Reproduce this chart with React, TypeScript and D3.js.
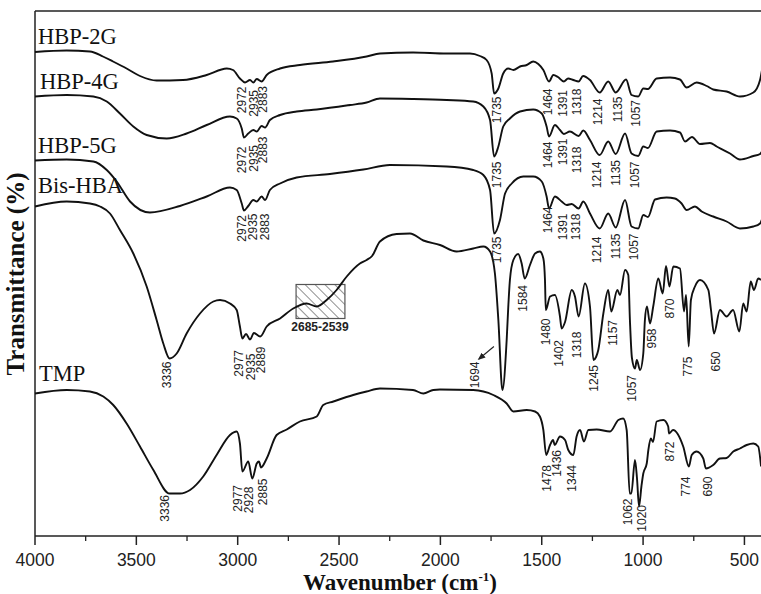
import React from 'react';
import * as d3 from 'd3';

type Pt = [number, number];
type Peak = [string, number, number];

const xMajorTicks = [4000, 3500, 3000, 2500, 2000, 1500, 1000, 500];
const xMinorTicks = [3750, 3250, 2750, 2250, 1750, 1250, 750];

const seriesNames = ['HBP-2G', 'HBP-4G', 'HBP-5G', 'Bis-HBA', 'TMP'];

// [wavenumber (cm-1), transmittance (a.u., offset)]
const hbp2g: Pt[] = [
  [4000, 96.8], [3844, 97.1], [3729, 96.9], [3665, 95.9], [3615, 94.9], [3548, 93.5], [3482, 92.0], [3400, 91.1],
  [3270, 91.2], [3153, 92.2], [3054, 93.5], [3023, 93.2], [2989, 91.5], [2964, 90.7], [2939, 91.2], [2923, 90.7],
  [2906, 91.4], [2882, 90.9], [2857, 92.2], [2791, 93.5], [2693, 94.2], [2530, 94.9], [2364, 95.9], [2298, 96.5],
  [2135, 96.7], [1969, 96.5], [1854, 96.5], [1805, 96.0], [1772, 95.2], [1747, 92.5], [1735, 88.5], [1714, 89.5],
  [1690, 92.5], [1665, 93.5], [1640, 93.2], [1607, 93.9], [1574, 94.2], [1542, 94.9], [1517, 94.4], [1492, 93.2],
  [1464, 90.9], [1443, 92.2], [1420, 91.8], [1391, 90.9], [1370, 91.5], [1344, 91.2], [1318, 90.9], [1296, 92.0],
  [1262, 91.2], [1214, 88.7], [1172, 90.9], [1135, 88.7], [1084, 91.3], [1057, 88.2], [1024, 87.9], [999, 89.5],
  [976, 89.4], [933, 91.5], [867, 91.7], [818, 91.3], [785, 89.7], [736, 90.7], [686, 90.0], [654, 89.3],
  [588, 88.9], [522, 87.9], [456, 88.7], [423, 91.2], [412, 93.5],
];

const hbp4g: Pt[] = [
  [4000, 87.9], [3844, 88.2], [3712, 87.9], [3646, 86.9], [3581, 84.5], [3515, 81.9], [3449, 80.2], [3350, 79.5],
  [3252, 80.5], [3153, 82.2], [3038, 83.9], [3005, 83.5], [2980, 81.5], [2969, 79.7], [2948, 80.5], [2923, 81.2],
  [2906, 80.9], [2882, 82.0], [2865, 81.7], [2841, 83.2], [2791, 84.2], [2709, 84.9], [2610, 85.3], [2446, 86.2],
  [2364, 86.7], [2298, 87.5], [2135, 87.4], [1969, 87.2], [1838, 86.9], [1788, 85.9], [1755, 83.2], [1735, 75.9],
  [1714, 77.9], [1690, 81.9], [1657, 83.5], [1607, 84.9], [1542, 85.3], [1500, 84.5], [1476, 81.9], [1464, 79.9],
  [1435, 82.2], [1410, 81.2], [1391, 80.4], [1361, 80.9], [1318, 80.0], [1295, 81.1], [1262, 79.2], [1214, 76.2],
  [1172, 78.9], [1135, 76.4], [1089, 80.5], [1057, 76.5], [1024, 76.0], [999, 77.9], [976, 77.6], [933, 80.9],
  [867, 81.1], [818, 80.7], [793, 78.9], [759, 79.8], [719, 78.4], [670, 78.6], [637, 77.9], [571, 76.5],
  [522, 75.3], [456, 76.0], [423, 76.4], [412, 77.0],
];

const hbp5g: Pt[] = [
  [4000, 75.1], [3844, 75.3], [3712, 74.9], [3646, 73.2], [3597, 70.9], [3531, 66.9], [3433, 64.7], [3285, 66.0],
  [3153, 67.9], [3038, 69.7], [3005, 69.2], [2980, 66.5], [2969, 65.1], [2948, 66.0], [2923, 67.2], [2906, 66.9],
  [2882, 67.9], [2865, 67.2], [2841, 69.2], [2791, 70.5], [2709, 71.7], [2545, 72.4], [2380, 73.3], [2249, 74.2],
  [1969, 73.9], [1838, 73.2], [1788, 72.2], [1755, 69.2], [1735, 60.5], [1706, 63.2], [1681, 68.5], [1648, 70.5],
  [1591, 71.9], [1542, 71.9], [1500, 70.9], [1476, 67.9], [1464, 65.5], [1435, 67.9], [1402, 66.9], [1377, 66.2],
  [1352, 66.4], [1318, 65.5], [1295, 66.9], [1262, 64.5], [1214, 61.5], [1172, 64.5], [1135, 61.7], [1089, 67.2],
  [1057, 61.9], [1024, 61.5], [999, 64.2], [976, 63.8], [941, 67.3], [884, 67.7], [843, 67.5], [810, 66.5],
  [785, 65.2], [744, 65.9], [711, 64.9], [654, 63.9], [588, 62.9], [522, 61.5], [456, 61.9], [423, 62.5], [412, 63.5],
];

const bisHBA: Pt[] = [
  [4000, 65.9], [3844, 66.9], [3729, 66.5], [3679, 65.9], [3630, 64.5], [3581, 61.2], [3515, 56.5], [3449, 49.9],
  [3400, 43.2], [3367, 38.5], [3336, 35.5], [3301, 36.5], [3252, 40.5], [3186, 44.5], [3120, 46.9], [3087, 47.2],
  [3038, 46.5], [3005, 45.2], [2989, 41.9], [2977, 39.5], [2959, 40.4], [2939, 39.3], [2920, 40.6], [2889, 39.9],
  [2857, 41.9], [2791, 43.5], [2726, 45.5], [2660, 46.5], [2610, 45.9], [2561, 47.2], [2512, 49.2], [2462, 51.9],
  [2397, 54.5], [2364, 55.2], [2337, 56.0], [2298, 58.9], [2216, 60.4], [2150, 60.5], [2084, 59.1], [2002, 58.2],
  [1920, 56.9], [1838, 57.5], [1788, 57.9], [1755, 56.9], [1731, 52.5], [1714, 43.2], [1694, 29.2], [1673, 39.2],
  [1665, 45.9], [1657, 51.2], [1640, 55.2], [1616, 56.4], [1599, 54.5], [1584, 51.5], [1558, 54.2], [1533, 56.5],
  [1509, 56.9], [1492, 55.5], [1484, 51.2], [1480, 45.2], [1459, 47.9], [1435, 48.2], [1410, 43.9], [1402, 41.5],
  [1385, 42.8], [1352, 49.2], [1336, 47.9], [1318, 43.9], [1287, 50.5], [1262, 45.9], [1245, 35.2], [1232, 35.8],
  [1221, 37.2], [1196, 44.5], [1172, 49.2], [1157, 44.9], [1127, 49.2], [1114, 48.2], [1089, 53.2], [1073, 52.2],
  [1065, 43.2], [1055, 35.6], [1040, 33.5], [1031, 35.2], [1015, 33.2], [999, 36.5], [991, 43.2], [981, 45.9],
  [966, 42.5], [950, 45.9], [925, 51.5], [903, 48.5], [887, 54.0], [870, 49.9], [851, 53.9], [818, 53.5],
  [798, 44.9], [788, 48.2], [775, 37.9], [764, 47.2], [744, 49.9], [719, 51.2], [678, 49.2], [665, 45.2],
  [650, 40.5], [621, 45.2], [588, 43.9], [556, 45.2], [525, 40.9], [506, 46.5], [489, 44.9], [469, 50.9],
  [453, 49.2], [432, 51.5], [418, 51.2],
];

const tmp: Pt[] = [
  [4000, 28.5], [3844, 29.2], [3729, 28.9], [3663, 27.9], [3614, 26.2], [3548, 22.5], [3482, 17.9], [3416, 13.2],
  [3336, 8.5], [3285, 8.5], [3235, 9.2], [3170, 11.9], [3104, 16.2], [3038, 20.2], [3005, 20.9], [2989, 18.5],
  [2977, 12.9], [2948, 14.9], [2928, 11.5], [2906, 14.5], [2895, 14.9], [2885, 13.7], [2857, 15.5], [2808, 20.2],
  [2758, 21.3], [2693, 22.9], [2610, 23.9], [2578, 26.2], [2528, 26.9], [2430, 28.2], [2364, 28.9], [2298, 29.5],
  [2135, 29.2], [2084, 28.5], [2035, 29.2], [2002, 29.3], [1838, 29.2], [1739, 28.2], [1673, 26.5], [1640, 24.9],
  [1574, 25.2], [1533, 24.9], [1509, 23.9], [1492, 21.2], [1478, 16.2], [1459, 18.2], [1444, 19.2], [1436, 18.2],
  [1410, 19.9], [1385, 19.2], [1369, 17.2], [1344, 16.2], [1328, 19.9], [1311, 21.2], [1292, 18.9], [1270, 21.2],
  [1229, 21.3], [1163, 20.9], [1122, 23.2], [1098, 23.5], [1081, 21.2], [1066, 8.5], [1058, 8.5], [1040, 15.2],
  [1030, 11.5], [1020, 5.9], [1008, 10.0], [999, 12.5], [982, 14.5], [974, 17.2], [962, 19.5], [951, 18.8],
  [933, 22.9], [900, 23.2], [876, 21.9], [872, 20.5], [852, 21.2], [802, 17.9], [774, 13.9], [760, 16.2],
  [736, 16.9], [703, 15.5], [690, 13.5], [654, 14.2], [621, 15.5], [588, 15.6], [555, 16.9], [522, 17.5],
  [489, 18.2], [456, 18.5], [432, 17.9], [418, 13.9],
];

// peak labels: [text, label wavenumber, label top (transmittance units)]
const hbp2gPeaks: Peak[] = [
  ['2972', 2980, 89.9], ['2935', 2920, 89.2], ['2883', 2874, 90.0], ['1735', 1719, 87.9], ['1464', 1468, 89.5],
  ['1391', 1397, 89.2], ['1318', 1328, 89.5], ['1214', 1221, 87.5], ['1135', 1125, 87.9], ['1057', 1035, 87.2],
];
const hbp4gPeaks: Peak[] = [
  ['2972', 2980, 77.9], ['2935', 2920, 78.2], ['2883', 2874, 79.9], ['1735', 1719, 74.9], ['1464', 1468, 78.9],
  ['1391', 1397, 79.5], ['1318', 1328, 77.9], ['1214', 1229, 74.9], ['1135', 1134, 75.2], ['1057', 1040, 74.9],
];
const hbp5gPeaks: Peak[] = [
  ['2972', 2980, 64.2], ['2935', 2923, 64.5], ['2883', 2865, 64.5], ['1735', 1719, 59.9], ['1464', 1468, 65.9],
  ['1391', 1397, 64.5], ['1318', 1331, 64.5], ['1214', 1229, 59.9], ['1135', 1134, 60.5], ['1057', 1045, 60.5],
];
const bisHBAPeaks: Peak[] = [
  ['3336', 3350, 34.9], ['2977', 2992, 37.2], ['2935', 2936, 36.5], ['2889', 2887, 37.9], ['1694', 1829, 34.9],
  ['1584', 1594, 50.2], ['1480', 1479, 43.5], ['1402', 1413, 39.2], ['1318', 1328, 40.9], ['1245', 1242, 34.2],
  ['1157', 1147, 43.2], ['1057', 1056, 32.2], ['958', 958, 41.5], ['870', 867, 47.5], ['775', 777, 35.9],
  ['650', 640, 36.9],
];
const tmpPeaks: Peak[] = [
  ['3336', 3359, 8.2], ['2977', 3000, 10.2], ['2928', 2943, 9.9], ['2885', 2877, 11.5], ['1478', 1476, 14.2],
  ['1436', 1423, 17.2], ['1344', 1352, 14.2], ['1062', 1073, 7.5], ['1020', 1007, 6.2], ['872', 867, 18.9],
  ['774', 788, 11.9], ['690', 678, 11.9],
];

// shoulder region marked on Bis-HBA
const boxRange: Pt = [2712, 2471];
const boxLevels: Pt = [50.3, 43.5];
const boxText = '2685-2539';
const boxTextAt: Pt = [2594, 41.0];
// arrow pointing at the 1694 label
const arrow1694: Pt[] = [[1736, 37.9], [1810, 35.4]];

const allSeries = [hbp2g, hbp4g, hbp5g, bisHBA, tmp];
const allPeaks = [hbp2gPeaks, hbp4gPeaks, hbp5gPeaks, bisHBAPeaks, tmpPeaks];
// layout: where each series name sits
const nameAt: Pt[] = [[3985, 98.4], [3975, 89.5], [3985, 76.7], [3985, 68.7], [3980, 31.0]];

const SANS = '"Liberation Sans", Arial, Helvetica, sans-serif';
const SERIF = '"Liberation Serif", "Times New Roman", Times, serif';

export default function App() {
  const W = 761;
  const H = 594;
  const x = d3.scaleLinear().domain([4000, 400]).range([35, 764.7]);
  const y = d3.scaleLinear().domain([0, 105]).range([536, 11]);
  const line = d3
    .line<Pt>()
    .x((d) => x(d[0]))
    .y((d) => y(d[1]))
    .curve(d3.curveMonotoneX);
  const x0 = x.range()[0];
  const yBottom = y(0);
  const yTop = y(105);

  return (
    <svg
      width={W}
      height={H}
      viewBox={`0 0 ${W} ${H}`}
      style={{ position: 'absolute', left: 0, top: 0, background: '#fff' }}
    >
      <defs>
        <pattern id="hatch" width="7" height="7" patternUnits="userSpaceOnUse" patternTransform="rotate(-45)">
          <line x1="0" y1="0" x2="0" y2="7" stroke="#555" strokeWidth="1.3" />
        </pattern>
        <marker id="arrowHead" viewBox="0 0 10 10" refX="8" refY="5" markerWidth="7" markerHeight="7" orient="auto">
          <path d="M0,1 L10,5 L0,9 z" fill="#222" />
        </marker>
      </defs>
      <rect x={0} y={0} width={W} height={H} fill="#fff" />

      {/* frame */}
      <line x1={x0} x2={W + 5} y1={yTop} y2={yTop} stroke="#222" strokeWidth={1.5} />
      <line x1={x0} x2={x0} y1={yTop} y2={yBottom} stroke="#222" strokeWidth={1.5} />
      <line x1={x0} x2={W + 5} y1={yBottom} y2={yBottom} stroke="#222" strokeWidth={1.5} />

      {/* x ticks */}
      {xMajorTicks.map((t) => (
        <g key={'M' + t}>
          <line x1={x(t)} x2={x(t)} y1={yBottom} y2={yBottom + 9} stroke="#222" strokeWidth={1.5} />
          <text x={x(t)} y={yBottom + 30} textAnchor="middle" fontFamily={SANS} fontSize={17.5} fill="#222">
            {t}
          </text>
        </g>
      ))}
      {xMinorTicks.map((t) => (
        <line key={'m' + t} x1={x(t)} x2={x(t)} y1={yBottom} y2={yBottom + 5} stroke="#222" strokeWidth={1.3} />
      ))}

      {/* axis titles */}
      <text x={400} y={590} textAnchor="middle" fontFamily={SERIF} fontWeight="bold" fontSize={23} fill="#111">
        Wavenumber (cm
        <tspan dy={-9} fontSize={13}>-1</tspan>
        <tspan dy={9}>)</tspan>
      </text>
      <text
        transform={`translate(15,274) rotate(-90)`}
        textAnchor="middle"
        dominantBaseline="central"
        fontFamily={SERIF}
        fontWeight="bold"
        fontSize={25}
        fill="#111"
      >
        Transmittance (%)
      </text>

      {/* hatched box */}
      <rect
        x={x(boxRange[0])}
        y={y(boxLevels[0])}
        width={x(boxRange[1]) - x(boxRange[0])}
        height={y(boxLevels[1]) - y(boxLevels[0])}
        fill="url(#hatch)"
        stroke="#555"
        strokeWidth={1.2}
      />
      <text
        x={x(boxTextAt[0])}
        y={y(boxTextAt[1])}
        textAnchor="middle"
        fontFamily={SANS}
        fontWeight="bold"
        fontSize={12}
        fill="#222"
      >
        {boxText}
      </text>

      {/* spectra */}
      {allSeries.map((s, i) => (
        <path key={seriesNames[i]} d={line(s) || ''} fill="none" stroke="#111" strokeWidth={1.9} strokeLinejoin="round" />
      ))}

      {/* series names */}
      {seriesNames.map((n, i) => (
        <text key={'n' + n} x={x(nameAt[i][0])} y={y(nameAt[i][1])} fontFamily={SERIF} fontSize={22.5} fill="#111">
          {n}
        </text>
      ))}

      {/* peak labels */}
      {allPeaks.map((peaks, i) =>
        peaks.map((p, j) => (
          <text
            key={`p${i}-${j}`}
            transform={`translate(${x(p[1])},${y(p[2])}) rotate(-90)`}
            textAnchor="end"
            dominantBaseline="central"
            fontFamily={SANS}
            fontSize={12}
            fill="#222"
          >
            {p[0]}
          </text>
        ))
      )}

      {/* arrow to 1694 */}
      <line
        x1={x(arrow1694[0][0])}
        y1={y(arrow1694[0][1])}
        x2={x(arrow1694[1][0])}
        y2={y(arrow1694[1][1])}
        stroke="#222"
        strokeWidth={1.1}
        markerEnd="url(#arrowHead)"
      />
    </svg>
  );
}
